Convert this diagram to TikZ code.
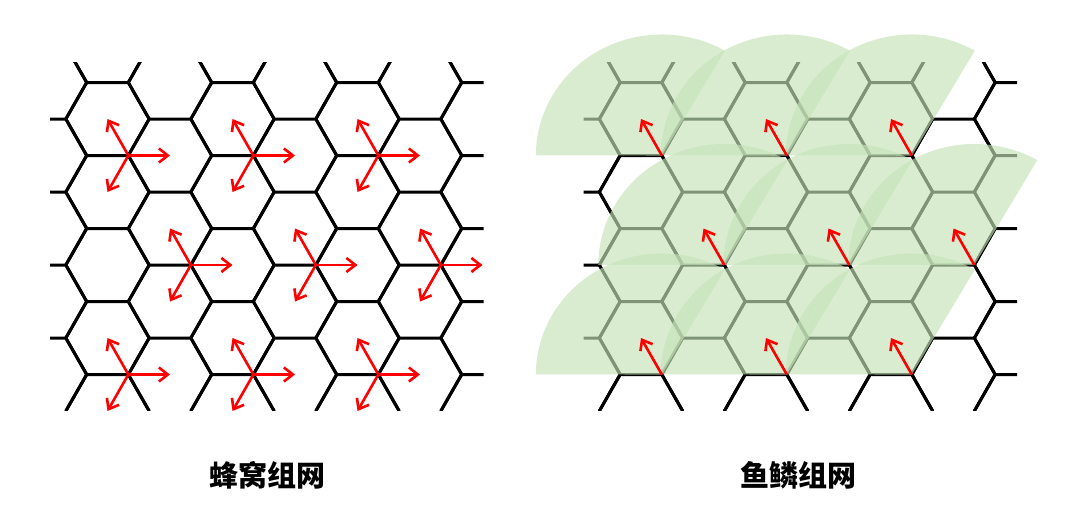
\documentclass[tikz,border=0pt]{standalone}
\usepackage{fontspec}
\newfontfamily\cjk{Noto Sans CJK SC}
\usetikzlibrary{arrows.meta}
\definecolor{sectorgreen}{RGB}{196,226,183}
% honeycomb: each hexagon draws its top edge and its four slanted edges;
% its bottom edge is the top edge of the hexagon below it
\newcommand\hexgrid[1]{%
  \begin{scope}
    \clip (#1+50,-62) rectangle (#1+483.5,-410);
    \foreach \c in {-1,...,7}{
      \pgfmathtruncatemacro\odd{mod(\c+2,2)}
      \pgfmathtruncatemacro\rmax{4-\odd}
      \foreach \r in {-1,...,\rmax}{
        \pgfmathsetmacro\X{#1+107.5+62.5*\c}
        \pgfmathsetmacro\Y{-(119+73*\r+36.5*\odd)}
        \draw[hexline] (\X-20.83,\Y-36.5) -- ++(-20.83,36.5) -- ++(20.83,36.5)
          -- ++(41.67,0) -- ++(20.83,-36.5) -- ++(-20.83,-36.5);
      }
    }
  \end{scope}}
\begin{document}
\begin{tikzpicture}[x=1pt,y=1pt,
  hexline/.style={line width=3pt,black,line join=round},
  arr/.style={line width=2.6pt,red,-{Straight Barb[length=9pt,width=14pt]}},
  sector/.style={fill=sectorgreen,fill opacity=0.65},
  label/.style={font=\cjk\bfseries\fontsize{29}{32}\selectfont,inner sep=0pt}]
\useasboundingbox (0,0) rectangle (1080,-522);
% ---- left: honeycomb ----
\hexgrid{0}
\foreach \vx/\vy [count=\i] in {128.33/155.5,253.33/155.5,378.33/155.5,
    190.83/265,315.83/265,440.83/265,128.33/374.5,253.33/374.5,378.33/374.5}{
  \coordinate (L\i) at (\vx,-\vy);
  \coordinate (L\i ul) at (\vx-20.83,-\vy+36.5);
  \coordinate (L\i r) at (\vx+41.67,-\vy);
  \coordinate (L\i dl) at (\vx-20.83,-\vy-36.5);
  \draw[arr] (L\i) -- (L\i ul);
  \draw[arr] (L\i) -- (L\i r);
  \draw[arr] (L\i) -- (L\i dl);
}
% ---- right: fish-scale ----
\hexgrid{533.5}
\foreach \vx/\vy [count=\i] in {661.83/155.5,786.83/155.5,911.83/155.5,
    724.33/265,849.33/265,974.33/265,661.83/374.5,786.83/374.5,911.83/374.5}{
  \coordinate (R\i) at (\vx,-\vy);
  \coordinate (R\i ul) at (\vx-20.83,-\vy+36.5);
  \fill[sector] (R\i) -- ++(63,104.8)
    arc[start angle=60,end angle=180,x radius=126pt,y radius=121pt] -- cycle;
}
\foreach \i in {1,...,9}{
  \draw[arr] (R\i) -- (R\i ul);
}
% ---- labels ----
\node[label] (t1) at (267,-475) {蜂窝组网};
\node[label] (t2) at (798.5,-475) {鱼鳞组网};
\end{tikzpicture}
\end{document}
